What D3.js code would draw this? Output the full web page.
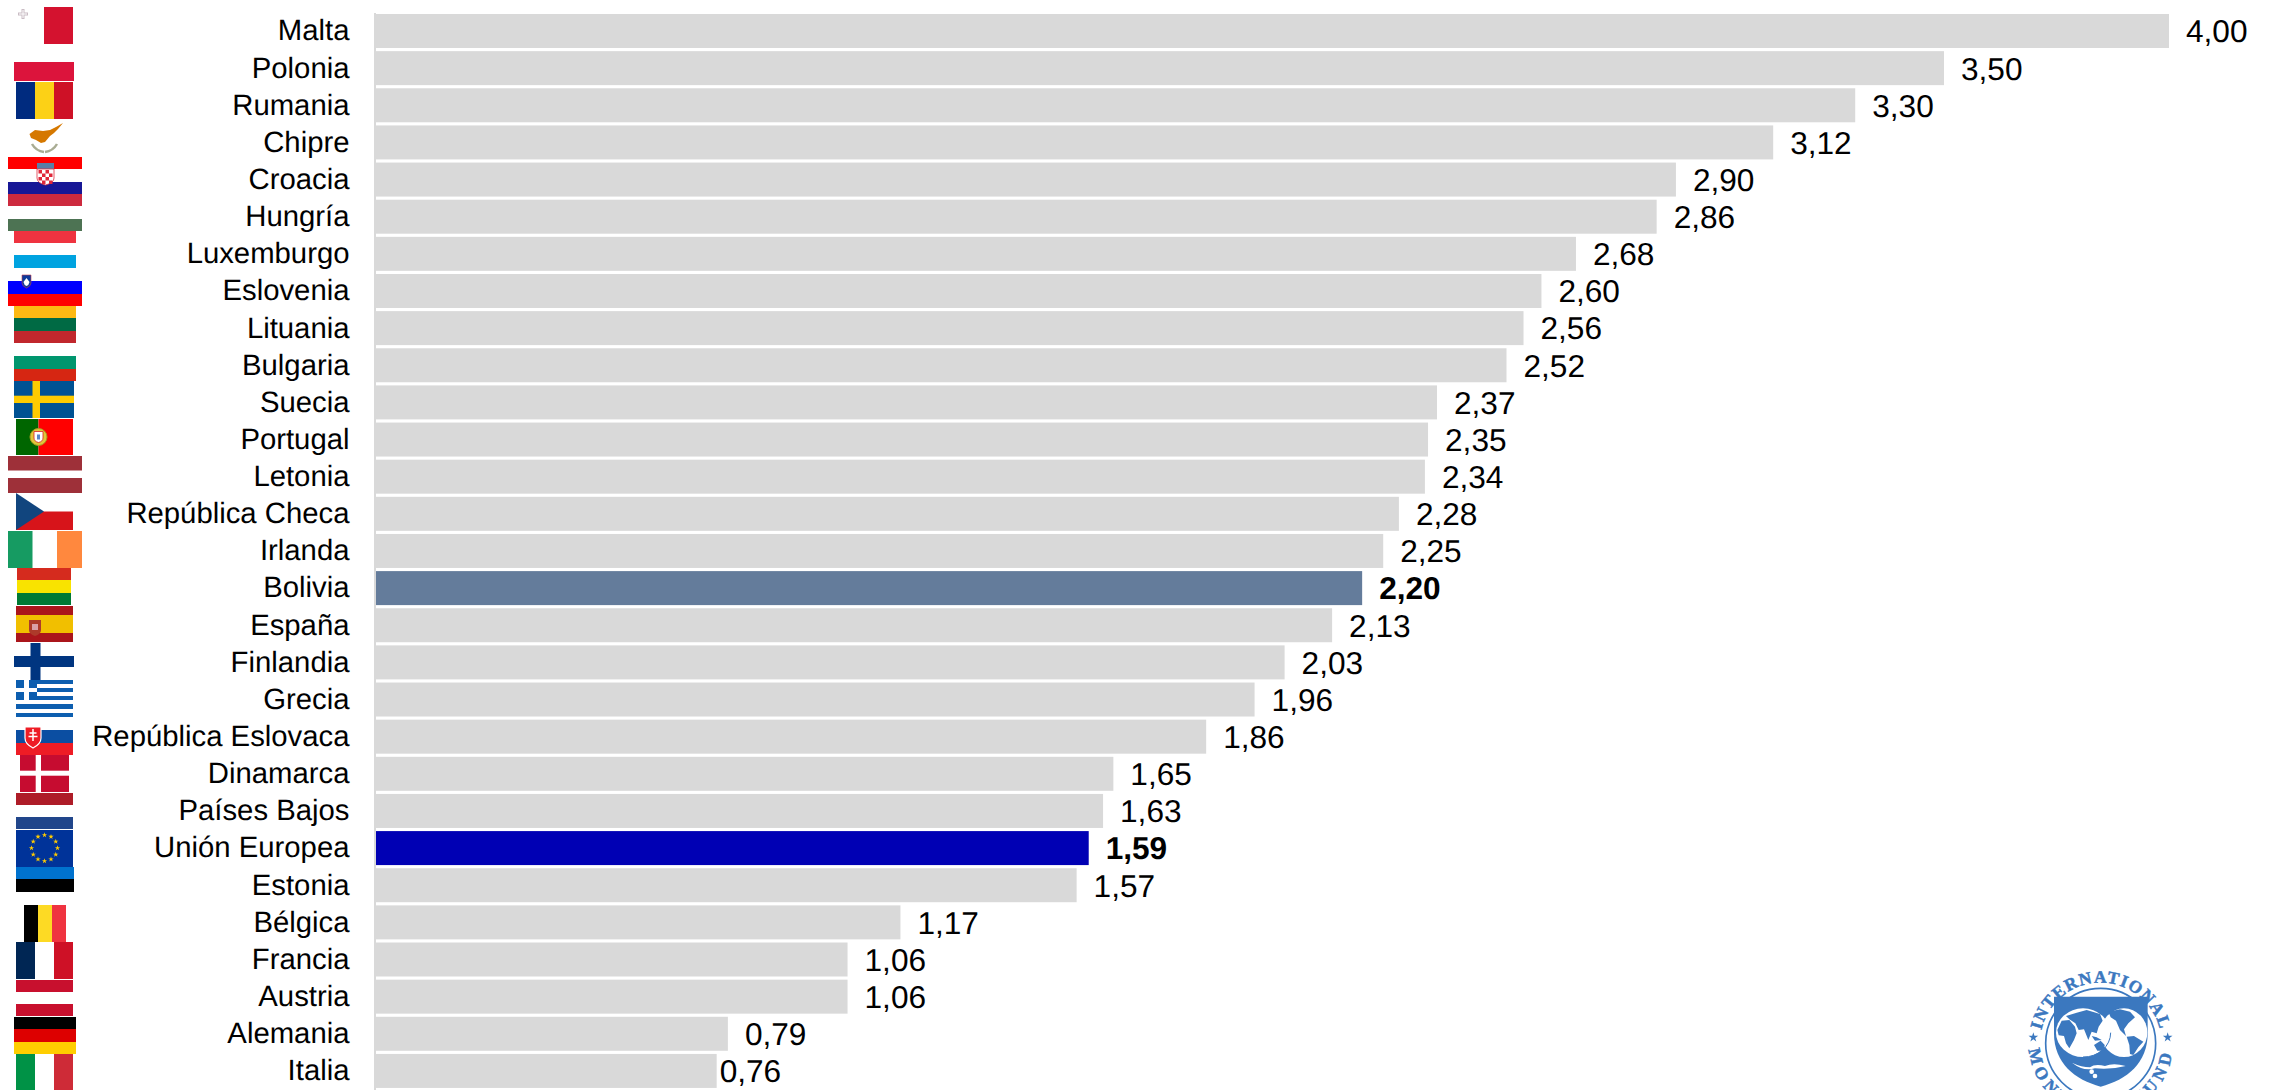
<!DOCTYPE html>
<html lang="es"><head><meta charset="utf-8">
<script src="https://cdn.jsdelivr.net/npm/d3@7"></script>
<style>html,body{margin:0;padding:0;background:#fff;overflow:hidden}svg{display:block;text-rendering:geometricPrecision}</style></head><body>
<div id="chart"></div>
<script>
const categories = ["Malta","Polonia","Rumania","Chipre","Croacia","Hungría","Luxemburgo","Eslovenia","Lituania","Bulgaria","Suecia","Portugal","Letonia","República Checa","Irlanda","Bolivia","España","Finlandia","Grecia","República Eslovaca","Dinamarca","Países Bajos","Unión Europea","Estonia","Bélgica","Francia","Austria","Alemania","Italia"];
const values = [4.00,3.50,3.30,3.12,2.90,2.86,2.68,2.60,2.56,2.52,2.37,2.35,2.34,2.28,2.25,2.20,2.13,2.03,1.96,1.86,1.65,1.63,1.59,1.57,1.17,1.06,1.06,0.79,0.76];
// bar lengths as measured in the picture (some differ slightly from the printed label)
const barLengths = [4.00,3.498,3.30,3.117,2.90,2.857,2.677,2.60,2.56,2.522,2.367,2.347,2.34,2.282,2.247,2.20,2.133,2.027,1.96,1.852,1.645,1.622,1.59,1.563,1.17,1.052,1.052,0.785,0.76];
const highlightColors = {"Bolivia":"#647c9b","Unión Europea":"#0000b4"};

const W=2269,H=1090, FONT='"Liberation Sans",Arial,sans-serif';
const svg=d3.select("#chart").append("svg").attr("width",W).attr("height",H);
const x=d3.scaleLinear().domain([0,4]).range([376,2169]);
const y=d3.scaleBand().domain(categories).range([12.43,1089.5]).paddingInner(0.0846).paddingOuter(0.0423);
const fmt=d3.formatLocale({decimal:",",thousands:".",grouping:[3],currency:["","€"]}).format(".2f");
const rows=categories.map((c,i)=>({c,v:values[i],len:barLengths[i]}));

svg.append("g").selectAll("rect").data(rows).join("rect")
 .attr("x",x(0)).attr("y",d=>y(d.c)).attr("width",d=>x(d.len)-x(0)).attr("height",y.bandwidth())
 .attr("fill",d=>highlightColors[d.c]||"#d9d9d9");

const ax=svg.append("g").attr("transform","translate(374.5,0)").call(d3.axisLeft(y).tickSize(0).tickSizeOuter(0).tickPadding(25));
ax.select(".domain").attr("stroke","#d9d9d9").attr("stroke-width",2);
ax.selectAll("text").attr("font-family",FONT).attr("font-size",29.3).attr("fill","#000").attr("dy","0.32em");

svg.append("g").selectAll("text").data(rows).join("text")
 .attr("x",d=>x(d.len)+(d.c==="Italia"?3:17)).attr("y",d=>y(d.c)+y.bandwidth()/2)
 .attr("dy","0.36em").attr("font-family",FONT).attr("font-size",31.6)
 .attr("font-weight",d=>highlightColors[d.c]?"bold":"normal").attr("fill","#000")
 .text(d=>fmt(d.v));

/* flags: decorative images, [x0,y0,x1,y1,colour] */
const flagRects=[
[44,7,73,44,"#d4122f"],
[14,62,74,81,"#dc143c"],
[16,82,35,119,"#002b7f"],[35,82,54,119,"#fcd116"],[54,82,73,119,"#ce1126"],
[8,157,82,169,"#ff0000"],[8,182,82,194,"#171796"],
[8,194,82,206,"#cd2a3e"],[8,219,82,231,"#4d7353"],
[14,231,76,243,"#ef3340"],[14,255,76,268,"#00a3e0"],
[8,281,82,294,"#0000ff"],[8,294,82,306,"#ff0000"],
[14,306,76,318,"#fdb913"],[14,318,76,331,"#006a44"],[14,331,76,343,"#c1272d"],
[14,356,76,369,"#00966e"],[14,369,76,381,"#d62612"],
[14,381,74,418,"#005293"],[32.5,381,40,418,"#fecb00"],[14,395.7,74,403,"#fecb00"],
[16,419,38.5,455,"#006600"],[38.5,419,73,455,"#ff0000"],
[8,456,82,470.5,"#9e3039"],[8,478,82,493,"#9e3039"],
[16,511.5,73,530,"#d7141a"],
[8,531,32.5,568,"#169b62"],[57,531,82,568,"#ff883e"],
[17,568,71,580,"#d52b1e"],[17,580,71,593,"#f9e300"],[17,593,71,605,"#007934"],
[16,606,73,615,"#aa151b"],[16,615,73,633,"#f1bf00"],[16,633,73,642,"#aa151b"],
[30.5,643,40.5,680,"#003580"],[14,656,74,667,"#003580"],
[16,680,73,684,"#0d5eaf"],[37,688,73,692,"#0d5eaf"],[37,696,73,700,"#0d5eaf"],[16,704,73,709,"#0d5eaf"],[16,713,73,717,"#0d5eaf"],
[16,680,37,700,"#0d5eaf"],[16,688,37,692,"#fff"],[24,680,29,700,"#fff"],
[16,730,73,743,"#0b4ea2"],[16,743,73,755,"#ee1c25"],
[20,755,69,792,"#c60c30"],[35.7,755,41,792,"#fff"],[20,770.7,69,775.7,"#fff"],
[16,793,73,805,"#ae1c28"],[16,817,73,829,"#21468b"],
[16,830,73,867,"#003399"],
[16,867,74,879,"#0072ce"],[16,879,74,892,"#000"],
[24,905,38,942,"#000"],[38,905,52,942,"#fdda24"],[52,905,66,942,"#ef3340"],
[16,942,35,979,"#002654"],[54,942,73,979,"#ce1126"],
[16,980,73,992,"#c8102e"],[16,1004,73,1016,"#c8102e"],
[14,1017,76,1029,"#000"],[14,1029,76,1042,"#dd0000"],[14,1042,76,1054,"#ffce00"],
[16,1054,35,1090,"#009246"],[54,1054,73,1090,"#ce2b37"]];
const fl=svg.append("g");
fl.selectAll("rect").data(flagRects).join("rect").attr("x",d=>d[0]).attr("y",d=>d[1]).attr("width",d=>d[2]-d[0]).attr("height",d=>d[3]-d[1]).attr("fill",d=>d[4]);
fl.append("path").attr("d","M16,493L44,511.5L16,530Z").attr("fill","#11457e");
// Malta cross
fl.append("path").attr("d","M23,9V19M18,14H28").attr("stroke","#c9bcc4").attr("stroke-width",3);
fl.append("path").attr("d","M23,10V18M19,14H27").attr("stroke","#fff").attr("stroke-width",1);
// Cyprus
fl.append("path").attr("d","M29.5,134L35,130L43,131L50,130L56,127L63,123L58,129L54,133L50,136L45,142L41,143L36,140L31,138Z").attr("fill","#d57800");
fl.append("path").attr("d","M32,144Q36,151 44,152M57,144Q53,151 45,152").attr("fill","none").attr("stroke","#a9ac93").attr("stroke-width",2.5);
// Croatia shield
fl.append("path").attr("d","M37,163H54V170H37Z").attr("fill","#5a7ea6");
fl.append("path").attr("d","M37,169H54V178Q54,183 45.5,185Q37,183 37,178Z").attr("fill","#fff").attr("stroke","#e03040").attr("stroke-width",.8);
fl.selectAll(".chk").data(d3.cross(d3.range(4),d3.range(4)).filter(d=>(d[0]+d[1])%2===0)).join("rect").attr("x",d=>38.5+d[0]*3.5).attr("y",d=>170+d[1]*3.5).attr("width",3.5).attr("height",3.5).attr("fill","#e0283a");
// Slovenia shield
fl.append("path").attr("d","M22,275H31V283Q31,286 26.5,288Q22,286 22,283Z").attr("fill","#0d3a9a").attr("stroke","#c04050").attr("stroke-width",.6);
fl.append("path").attr("d","M23.5,282L26.5,278L29.5,282Q29,285 26.5,286Q24,285 23.5,282Z").attr("fill","#fff");
// Portugal
fl.append("circle").attr("cx",38.5).attr("cy",437).attr("r",8.5).attr("fill","#e0c63a").attr("stroke","#a89a20");
fl.append("path").attr("d","M34,431.5H43V438Q43,441.5 38.5,442.5Q34,441.5 34,438Z").attr("fill","#fff").attr("stroke","#d22").attr("stroke-width",.8);
fl.append("rect").attr("x",37).attr("y",434.5).attr("width",3).attr("height",5).attr("fill","#5a86c8");
// Spain
fl.append("path").attr("d","M29,620H41V630Q41,634 35,636Q29,634 29,630Z").attr("fill","#ad3a2a");
fl.append("rect").attr("x",32).attr("y",624).attr("width",6).attr("height",6).attr("fill","#d9a0a8");
// Slovakia
fl.append("path").attr("d","M25,727H41V738Q41,744 33,748Q25,744 25,738Z").attr("fill","#ee1c25").attr("stroke","#fff").attr("stroke-width",1.2);
fl.append("path").attr("d","M33,729V741M29.5,733H36.5M28.5,736.5H37.5").attr("stroke","#fff").attr("stroke-width",1.5);
// EU stars
fl.selectAll(".st").data(d3.range(12)).join("path")
 .attr("d",d3.symbol(d3.symbolStar,9))
 .attr("transform",d=>`translate(${44.5+13*Math.cos(d*Math.PI/6)},${848+13*Math.sin(d*Math.PI/6)})`)
 .attr("fill","#ffcc00");

/* IMF seal, drawn in 3x crop units */
const BLUE="#3b78bf";
const L=svg.append("g").attr("transform","translate(1980,930) scale(0.33333)");
const cx=362,cy=340;
L.append("circle").attr("cx",cx).attr("cy",cy).attr("r",165).attr("fill","none").attr("stroke",BLUE).attr("stroke-width",5);
L.append("path").attr("d","M222,200H503V310C503,400 440,450 362,470C285,450 222,400 222,310Z").attr("fill",BLUE);
L.append("ellipse").attr("cx",309).attr("cy",308).attr("rx",81).attr("ry",73).attr("fill","#fff");
L.append("ellipse").attr("cx",432).attr("cy",308).attr("rx",70).attr("ry",73).attr("fill","#fff");
L.append("path").attr("d","M392,308A81,73 0 0 1 309,381").attr("fill","none").attr("stroke",BLUE).attr("stroke-width",3);
const land=["M232,300L245,272L268,270L285,290L290,310L282,330L268,355L258,340L252,318L236,316Z",
"M258,258L290,248L320,240L360,252L368,272L356,290L350,310L335,305L325,330L312,298L296,300L286,280L268,268Z",
"M342,345L362,332L374,345L372,362L352,362Z",
"M335,318L350,322L365,330L345,332Z",
"M385,245L420,238L450,245L465,262L445,280L432,298L438,318L420,300L408,272L392,262Z",
"M440,320L462,318L490,335L475,352L460,375L450,372L448,345Z"];
L.selectAll(".land").data(land).join("path").attr("d",d=>d).attr("fill",BLUE);
L.append("path").attr("d","M276,398Q310,425 345,415Q390,420 437,408Q400,398 375,408Q345,400 330,412Q305,412 276,398Z").attr("fill","#fff");
L.selectAll(".b").data([[335,425],[345,438]]).join("circle").attr("cx",d=>d[0]).attr("cy",d=>d[1]).attr("r",7).attr("fill","#fff");
const defs=svg.append("defs");
defs.append("path").attr("id","arcTop").attr("d",`M${cx-182},${cy}A182,182 0 0 1 ${cx+182},${cy}`);
defs.append("path").attr("id","arcBot").attr("d",`M${cx-216},${cy}A216,216 0 0 0 ${cx+216},${cy}`);
const serif='"Liberation Serif","Times New Roman",serif';
[["arcTop","INTERNATIONAL",4],["arcBot","MONETARY FUND",14]].forEach(([id,t,ls])=>{
 L.append("text").attr("font-family",serif).attr("font-weight","bold").attr("font-size",52).attr("letter-spacing",ls).attr("fill",BLUE).attr("stroke",BLUE).attr("stroke-width",1.5).attr("text-anchor","middle")
 .append("textPath").attr("href","#"+id).attr("startOffset","50%").text(t);
});
L.selectAll(".s").data([[160,322],[563,322]]).join("path").attr("d",d3.symbol(d3.symbolStar,260)).attr("transform",d=>`translate(${d[0]},${d[1]})`).attr("fill",BLUE);
</script></body></html>
